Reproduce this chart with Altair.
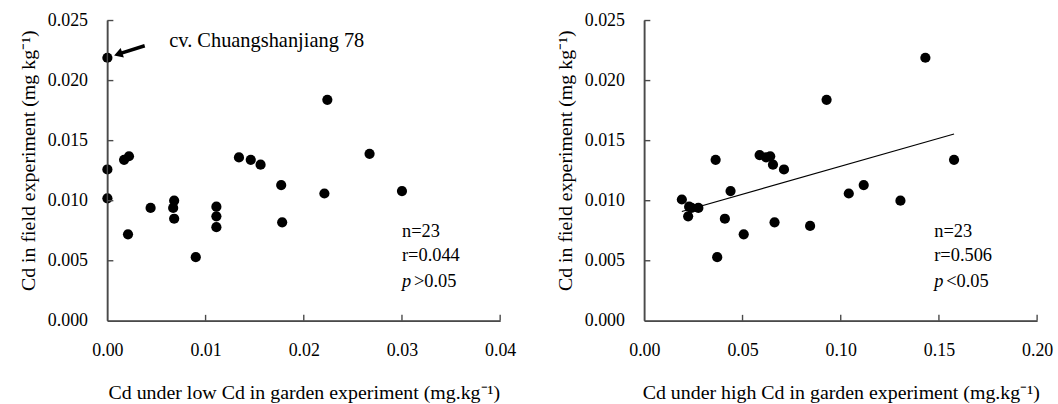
import altair as alt
import pandas as pd

# ---- data ----
low_x = [0.0000, 0.0000, 0.0000, 0.0017, 0.0022, 0.0021, 0.0044, 0.0067, 0.0068, 0.0068,
         0.0090, 0.0111, 0.0111, 0.0111, 0.0134, 0.0146, 0.0156, 0.0177, 0.0178, 0.0221,
         0.0224, 0.0267, 0.0300]
low_y = [0.0219, 0.0126, 0.0102, 0.0134, 0.0137, 0.0072, 0.0094, 0.0094, 0.0100, 0.0085,
         0.0053, 0.0095, 0.0087, 0.0078, 0.0136, 0.0134, 0.0130, 0.0113, 0.0082, 0.0106,
         0.0184, 0.0139, 0.0108]

high_x = [0.0191, 0.0228, 0.0223, 0.0275, 0.0240, 0.0363, 0.0371, 0.0410, 0.0439, 0.0506,
          0.0587, 0.0641, 0.0620, 0.0655, 0.0711, 0.0663, 0.0844, 0.0928, 0.1041, 0.1117,
          0.1304, 0.1431, 0.1577]
high_y = [0.0101, 0.0095, 0.0087, 0.0094, 0.0094, 0.0134, 0.0053, 0.0085, 0.0108, 0.0072,
          0.0138, 0.0137, 0.0136, 0.0130, 0.0126, 0.0082, 0.0079, 0.0184, 0.0106, 0.0113,
          0.0100, 0.0219, 0.0134]

fit_x = [0.0191, 0.1577]
fit_y = [0.0091, 0.01555]

y_ticks = [0.000, 0.005, 0.010, 0.015, 0.020, 0.025]
low_x_ticks = [0.00, 0.01, 0.02, 0.03, 0.04]
high_x_ticks = [0.00, 0.05, 0.10, 0.15, 0.20]

low_stats = ["n=23", "r=0.044"]
low_p = ">0.05"
high_stats = ["n=23", "r=0.506"]
high_p = "<0.05"
stats_y = [0.0075, 0.0055]
p_y = [0.0033]

cultivar_label = "cv. Chuangshanjiang 78"
label_pos = [0.0063, 0.0233]
arrow_start = [0.0038, 0.0229]
arrow_end = [0.0011, 0.0222]

y_title = "Cd in field experiment (mg kg\u207b\u00b9)"
low_title = "Cd under low Cd in garden experiment (mg.kg\u207b\u00b9)"
high_title = "Cd under high Cd in garden experiment (mg.kg\u207b\u00b9)"

FONT = "Liberation Serif"
AXIS_COLOR = "#4a4a4a"
W, H = 395, 302
FS = 18
TFS = 20
SFS = 18.5


def panel(xs, ys, xdom, xticks, xtitle, stats, ptxt, stats_x, extra):
    df = pd.DataFrame({"x": xs, "y": ys})
    xscale = alt.Scale(domain=xdom, nice=False, zero=False)
    yscale = alt.Scale(domain=[0, 0.025], nice=False)
    xax = alt.Axis(values=xticks, format=".2f", title=xtitle, grid=False,
                   domain=True, domainColor=AXIS_COLOR, domainWidth=1.4,
                   labelFlush=False, ticks=False,
                   labelPadding=21, titlePadding=23,
                   labelFont=FONT, labelFontSize=FS, titleFont=FONT, titleFontSize=TFS,
                   titleFontWeight="normal", labelColor="black", titleColor="black")
    yax = alt.Axis(values=y_ticks, format=".3f", title=y_title, grid=False,
                   domain=True, domainColor=AXIS_COLOR, domainWidth=1.4,
                   labelFlush=False, ticks=False, titleY=140.5,
                   labelPadding=20, titlePadding=9,
                   labelFont=FONT, labelFontSize=FS, titleFont=FONT, titleFontSize=TFS,
                   titleFontWeight="normal", labelColor="black", titleColor="black")

    pts = alt.Chart(df).mark_circle(size=105, color="black", opacity=1).encode(
        x=alt.X("x:Q", scale=xscale, axis=xax),
        y=alt.Y("y:Q", scale=yscale, axis=yax),
    )
    ydom = alt.Chart(pd.DataFrame({"a": [0.0], "b": [0.025]})).mark_rule(
        color=AXIS_COLOR, strokeWidth=1.4).encode(
        x=alt.value(0), y=alt.Y("a:Q", scale=yscale), y2="b:Q")
    xdomr = alt.Chart(pd.DataFrame({"a": [xdom[0]], "b": [xdom[1]]})).mark_rule(
        color=AXIS_COLOR, strokeWidth=1.4).encode(
        y=alt.value(H), x=alt.X("a:Q", scale=xscale), x2="b:Q")
    yt = alt.Chart(pd.DataFrame({"t": y_ticks[1:]})).mark_rule(
        color=AXIS_COLOR, strokeWidth=1.4).encode(
        y=alt.Y("t:Q", scale=yscale), x=alt.value(0), x2=alt.value(6))
    xt = alt.Chart(pd.DataFrame({"t": xticks[1:]})).mark_rule(
        color=AXIS_COLOR, strokeWidth=1.4).encode(
        x=alt.X("t:Q", scale=xscale), y=alt.value(H), y2=alt.value(H - 6))

    sdf = pd.DataFrame({"x": [stats_x] * 2, "y": stats_y, "t": stats})
    st = alt.Chart(sdf).mark_text(align="left", baseline="middle", font=FONT,
                                  fontSize=SFS, color="black").encode(
        x=alt.X("x:Q", scale=xscale), y=alt.Y("y:Q", scale=yscale), text="t:N")
    pdf = pd.DataFrame({"x": [stats_x], "y": p_y, "t": ["p"], "r": [ptxt]})
    p1 = alt.Chart(pdf).mark_text(align="left", baseline="middle", font=FONT,
                                  fontSize=SFS, fontStyle="italic", color="black").encode(
        x=alt.X("x:Q", scale=xscale), y=alt.Y("y:Q", scale=yscale), text="t:N")
    p2 = alt.Chart(pdf).mark_text(align="left", baseline="middle", font=FONT, dx=12,
                                  fontSize=SFS, color="black").encode(
        x=alt.X("x:Q", scale=xscale), y=alt.Y("y:Q", scale=yscale), text="r:N")
    layers = [pts, st, p1, p2] + extra(xscale, yscale) + [ydom, xdomr, yt, xt]
    return alt.layer(*layers).properties(width=W, height=H)


def left_extra(xs, ys):
    lab = alt.Chart(pd.DataFrame({"x": [label_pos[0]], "y": [label_pos[1]],
                                  "t": [cultivar_label]})).mark_text(
        align="left", baseline="middle", font=FONT, fontSize=20.5, color="black").encode(
        x=alt.X("x:Q", scale=xs), y=alt.Y("y:Q", scale=ys), text="t:N")
    arr = alt.Chart(pd.DataFrame({"x": [arrow_start[0]], "y": [arrow_start[1]],
                                  "x2": [arrow_end[0]], "y2": [arrow_end[1]]})).mark_rule(
        color="black", strokeWidth=3.5).encode(
        x=alt.X("x:Q", scale=xs), y=alt.Y("y:Q", scale=ys), x2="x2:Q", y2="y2:Q")
    head = alt.Chart(pd.DataFrame({"x": [arrow_end[0]], "y": [arrow_end[1]]})).mark_point(
        shape="triangle-up", filled=True, color="black", opacity=1, size=100,
        angle=251).encode(
        x=alt.X("x:Q", scale=xs), y=alt.Y("y:Q", scale=ys))
    return [arr, head, lab]


def right_extra(xs, ys):
    fit = alt.Chart(pd.DataFrame({"x": fit_x, "y": fit_y})).mark_line(
        color="black", strokeWidth=1.2).encode(
        x=alt.X("x:Q", scale=xs), y=alt.Y("y:Q", scale=ys))
    return [fit]


left = panel(low_x, low_y, [0, 0.04], low_x_ticks, low_title,
             low_stats, low_p, 0.0300, left_extra)
right = panel(high_x, high_y, [0, 0.20], high_x_ticks, high_title,
              high_stats, high_p, 0.1476, right_extra)

chart = alt.hconcat(left, right, spacing=145, bounds="flush").properties(
    padding={"left": 18, "top": 10.5, "right": 5, "bottom": 0},
    background="white",
).configure_view(strokeWidth=0)

chart.save("out.html", embed_options={"renderer": "svg", "actions": False})
